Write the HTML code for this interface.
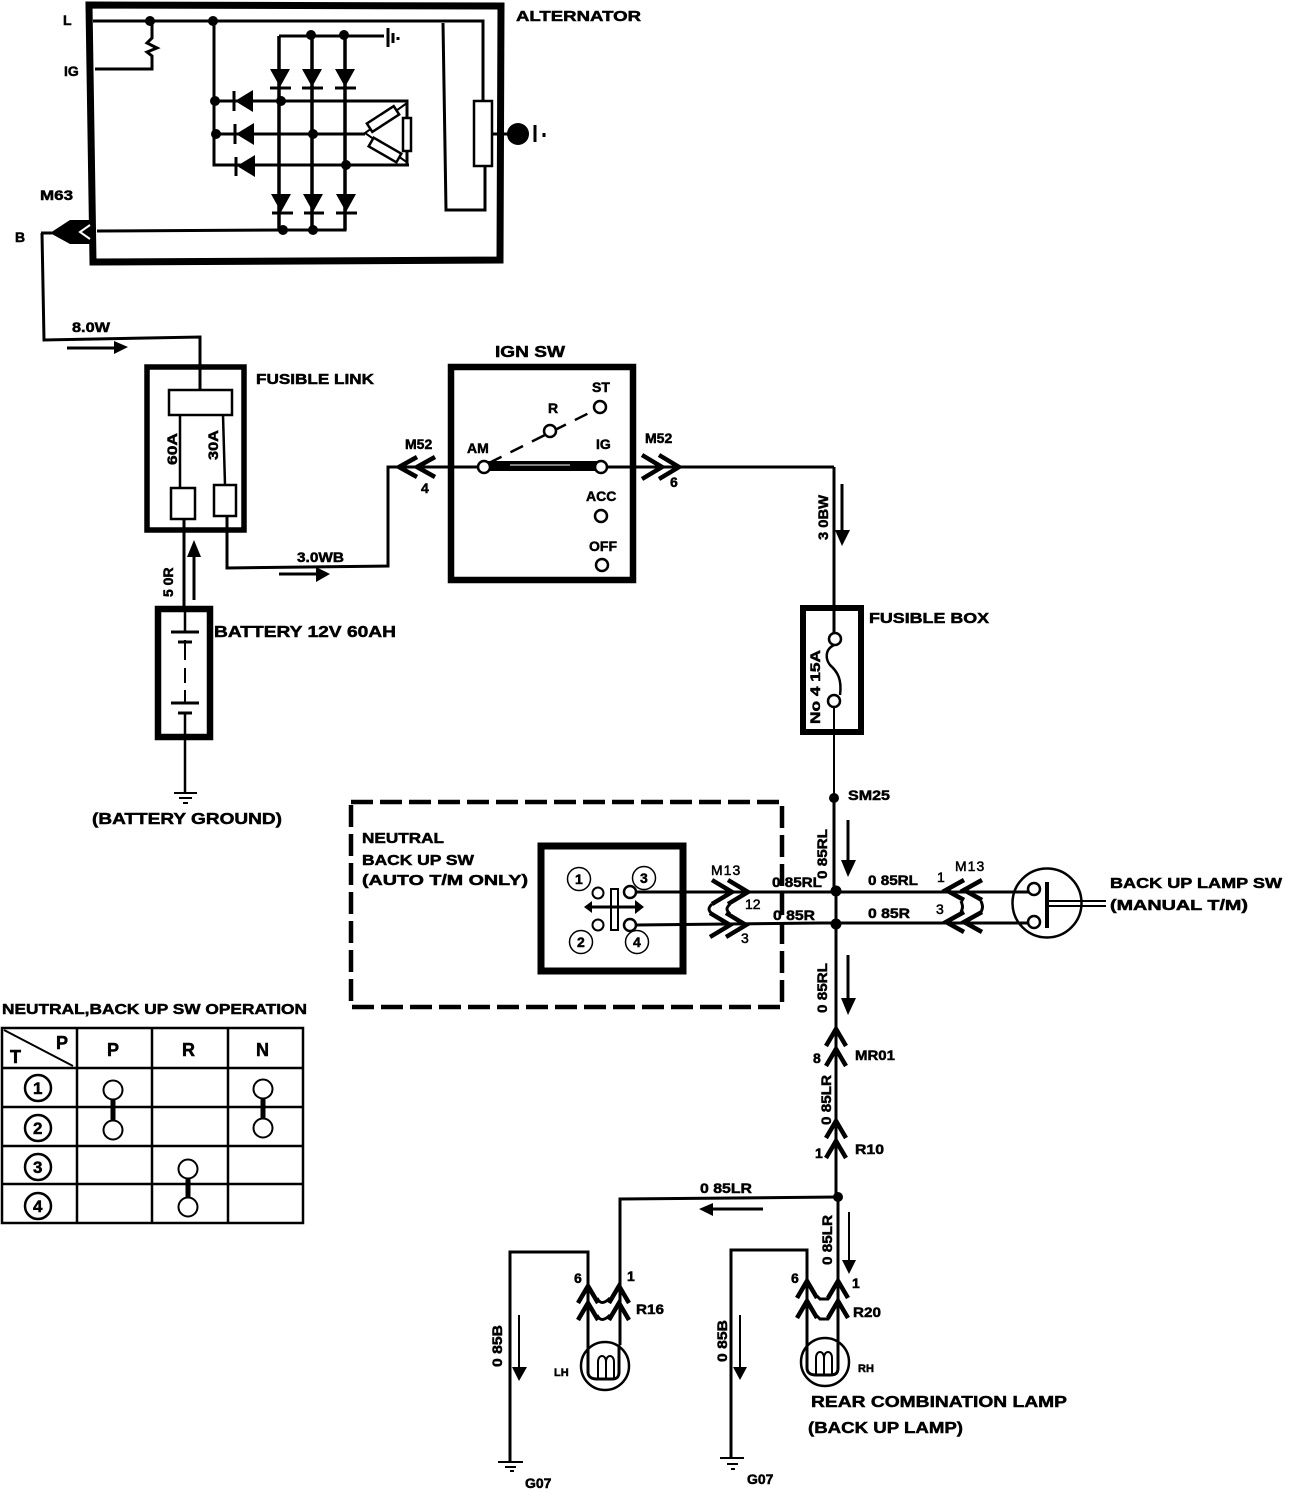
<!DOCTYPE html>
<html><head><meta charset="utf-8"><style>
html,body{margin:0;padding:0;background:#fff}
svg{display:block}
text{font-family:"Liberation Sans",sans-serif;font-weight:bold;fill:#000;stroke:#000;stroke-width:.5}
.w{fill:none;stroke:#000;stroke-width:3;stroke-linejoin:miter}
.t{fill:none;stroke:#000;stroke-width:2}
.b{fill:none;stroke:#000}
.wf{fill:#fff;stroke:#000;stroke-width:2.5}
.s12{font-size:14.5px}
.s14{font-size:16px}
.n{font-size:14px}
</style></head><body>
<svg width="1312" height="1490" viewBox="0 0 1312 1490" xmlns="http://www.w3.org/2000/svg">
<defs>
<g id="cu"><polyline points="-10,18 0,1 10,18" fill="none" stroke="#000" stroke-width="4.5"/></g>
<g id="cr"><polyline points="-26,-12 -6,0 -26,12" fill="none" stroke="#000" stroke-width="4.5"/></g>
<g id="cl"><polyline points="20,-10 2,0 20,10" fill="none" stroke="#000" stroke-width="4.5"/></g>
<polygon id="dd" points="-10,0 10,0 0,18" fill="#000"/>
<polygon id="dl" points="10,-11 10,11 -8,0" fill="#000"/>
</defs>

<!-- Alternator -->
<path d="M89,5 L501,6 L500,260 L93,262 Z" fill="none" stroke="#000" stroke-width="7"/>
<path class="w" d="M93,21 H483 V101"/>
<path class="w" d="M152,21 V38 L147,43 L157,48 L147,52 L152,56 V69 H95"/>
<path class="w" d="M214,21 V165 H409 M215,101 H407 V165 M216,134 H365"/>
<path d="M279,36 V230 M312,35 V230 M345,35 V230" class="w" style="stroke-width:3.5"/>
<path class="w" d="M279,36 H384"/>
<path class="b" stroke-width="3" d="M388,28 V47"/><path class="b" stroke-width="3" d="M393,33 V43 M398,37 V40"/>
<g><circle cx="150" cy="21" r="5"/><circle cx="213" cy="21" r="5"/><circle cx="311" cy="35" r="5"/><circle cx="344" cy="35" r="5"/><circle cx="215" cy="101" r="5"/><circle cx="216" cy="134" r="5"/><circle cx="281" cy="101" r="5"/><circle cx="313" cy="134" r="5"/><circle cx="346" cy="165" r="5"/><circle cx="283" cy="230" r="5"/><circle cx="313" cy="230" r="5"/></g>
<use href="#dd" x="280" y="69"/><use href="#dd" x="312" y="69"/><use href="#dd" x="345" y="69"/>
<path class="w" d="M270,88 H291 M302,88 H323 M335,88 H356"/>
<use href="#dd" x="281" y="194"/><use href="#dd" x="313" y="194"/><use href="#dd" x="346" y="194"/>
<path class="w" d="M272,213 H293 M304,213 H324 M336,213 H357"/>
<use href="#dl" x="243" y="101"/><use href="#dl" x="244" y="134"/><use href="#dl" x="245" y="166"/>
<path class="w" d="M234,91 V111 M235,124 V144 M236,157 V176"/>
<path class="w" d="M407,103 L365,133 L408,163" style="stroke-width:2"/>
<rect class="wf" x="403" y="118" width="8" height="33"/>
<rect class="wf" x="-16" y="-5" width="32" height="10" transform="translate(383,119) rotate(-33)"/>
<rect class="wf" x="-16" y="-5" width="32" height="10" transform="translate(385,150) rotate(30)"/>
<path class="w" d="M443,23 L446,210 H485 V165"/>
<rect class="wf" x="474" y="101" width="18" height="65"/>
<path class="w" d="M492,134 H508"/><circle cx="518" cy="134" r="11"/>
<path class="b" stroke-width="3" d="M535,125 V142"/><path class="b" stroke-width="3" d="M544,133 V137"/>
<path class="w" d="M97,231 L283,230 H345 V212"/>
<path d="M50,233 L70,220 H92 V244 H70 Z" fill="#000"/>
<path d="M90,225 L80,232 L90,239" fill="none" stroke="#fff" stroke-width="2"/>
<path class="w" d="M41,233 H52 M42,233 L44,340 L200,337 V390"/>
<text class="s12" x="516" y="21" textLength="125" lengthAdjust="spacingAndGlyphs">ALTERNATOR</text>
<text class="n" x="63" y="25">L</text><text class="n" x="64" y="76">IG</text>
<text class="n" x="40" y="200" textLength="33" lengthAdjust="spacingAndGlyphs">M63</text><text class="n" x="15" y="242">B</text>
<text class="n" x="72" y="332" textLength="38" lengthAdjust="spacingAndGlyphs">8.0W</text>
<path class="w" d="M67,348 H115"/><polygon points="114,341 128,347 114,354"/>

<!-- Fusible link -->
<rect x="147" y="367" width="97" height="163" fill="none" stroke="#000" stroke-width="5.5"/>
<rect class="wf" x="169" y="390" width="63" height="25"/>
<path class="w" d="M180,415 V487 M223,415 L225,485" style="stroke-width:2.5"/>
<rect class="wf" x="171" y="488" width="24" height="31"/>
<rect class="wf" x="214" y="485" width="22" height="31"/>
<text class="n" transform="translate(177,465) rotate(-90)" textLength="32" lengthAdjust="spacingAndGlyphs">60A</text>
<text class="n" transform="translate(218,460) rotate(-90)" textLength="30" lengthAdjust="spacingAndGlyphs">30A</text>
<text class="s12" x="256" y="384" textLength="118" lengthAdjust="spacingAndGlyphs">FUSIBLE LINK</text>
<path class="w" d="M184,519 V610"/>
<path class="w" d="M227,516 V568 L388,566 V467 H449"/>
<path class="w" d="M194,555 V600"/><polygon points="194,540 187,557 201,557"/>
<text class="n" transform="translate(173,597) rotate(-90)">5 0R</text>
<text class="n" x="297" y="562" textLength="47" lengthAdjust="spacingAndGlyphs">3.0WB</text>
<path class="w" d="M279,574 H318"/><polygon points="316,567 330,574 316,582"/>

<!-- Battery -->
<rect x="158" y="609" width="52" height="128" fill="none" stroke="#000" stroke-width="6.5"/>
<path class="w" d="M185,610 V632 M185,712 V793" style="stroke-width:2.5"/>
<path class="w" d="M185,640 V660 M185,668 V683 M185,690 V703" style="stroke-width:2"/>
<path class="w" d="M171,632 H199 M178,642 H192 M171,703 H199 M178,713 H192"/>
<path class="w" d="M174,793 H197" style="stroke-width:2"/><path class="w" d="M179,798 H192 M183,803 H188" style="stroke-width:2"/>
<text class="s14" x="214" y="637" textLength="182" lengthAdjust="spacingAndGlyphs">BATTERY 12V 60AH</text>
<text class="s14" x="92" y="824" textLength="190" lengthAdjust="spacingAndGlyphs">(BATTERY GROUND)</text>

<!-- IGN SW -->
<rect x="451" y="367" width="182" height="213" fill="none" stroke="#000" stroke-width="6.5"/>
<path d="M388,467 H484 M600,467 H834" class="w"/>
<path d="M484,461 H600 V471 H484 Z" fill="#000"/><path d="M510,465 H570" stroke="#fff" stroke-width="1"/>
<path d="M489,463 L597,409" fill="none" stroke="#000" stroke-width="2.5" stroke-dasharray="14,10"/>
<circle class="wf" cx="600" cy="407" r="6"/><circle class="wf" cx="550" cy="431" r="6"/>
<circle class="wf" cx="484" cy="467" r="6"/><circle class="wf" cx="601" cy="467" r="6"/>
<circle class="wf" cx="601" cy="516" r="6"/><circle class="wf" cx="602" cy="565" r="6"/>
<text class="n" x="495" y="357" textLength="70" lengthAdjust="spacingAndGlyphs" style="font-size:16px">IGN SW</text>
<text class="n" x="592" y="392">ST</text><text class="n" x="548" y="413">R</text><text class="n" x="596" y="449">IG</text><text class="n" x="467" y="453">AM</text><text class="n" x="586" y="501">ACC</text><text class="n" x="589" y="551">OFF</text>
<use href="#cl" x="397" y="467"/><use href="#cl" x="415" y="467"/>
<text class="n" x="405" y="449">M52</text><text class="n" x="421" y="493">4</text>
<use href="#cr" x="668" y="467"/><use href="#cr" x="685" y="467"/>
<text class="n" x="645" y="443">M52</text><text class="n" x="670" y="487">6</text>

<!-- Fusible box -->
<path class="w" d="M834,467 V633"/>
<path class="w" d="M834,706 V795" style="stroke-width:2"/>
<text class="n" transform="translate(828,540) rotate(-90)" textLength="45" lengthAdjust="spacingAndGlyphs">3 0BW</text>
<path class="w" d="M842,484 V535"/><polygon points="835,530 850,530 842,546"/>
<rect x="803" y="608" width="58" height="124" fill="none" stroke="#000" stroke-width="6"/>
<path class="w" d="M834,645 C824,650 826,660 830,665 C838,672 842,680 840,695" style="stroke-width:2.5"/>
<circle class="wf" cx="835" cy="639" r="6"/><circle class="wf" cx="834" cy="701" r="6"/>
<text class="n" transform="translate(820,724) rotate(-90)" textLength="74" lengthAdjust="spacingAndGlyphs">No 4 15A</text>
<text class="s12" x="869" y="623" textLength="120" lengthAdjust="spacingAndGlyphs">FUSIBLE BOX</text>
<circle cx="834" cy="798" r="5"/>
<text class="n" x="848" y="800" textLength="42" lengthAdjust="spacingAndGlyphs">SM25</text>

<!-- Neutral SW -->
<path d="M351,802 H782 V1007 H351 Z" fill="none" stroke="#000" stroke-width="4.5" stroke-dasharray="22,7"/>
<text class="s12" x="362" y="843" textLength="82" lengthAdjust="spacingAndGlyphs">NEUTRAL</text>
<text class="s12" x="362" y="865" textLength="112" lengthAdjust="spacingAndGlyphs">BACK UP SW</text>
<text class="s12" x="362" y="885" textLength="166" lengthAdjust="spacingAndGlyphs">(AUTO T/M ONLY)</text>
<rect x="541" y="846" width="142" height="125" fill="none" stroke="#000" stroke-width="7"/>
<g fill="#fff" stroke="#000" stroke-width="1.5"><circle cx="579" cy="879" r="11.5"/><circle cx="581" cy="942" r="11.5"/><circle cx="644" cy="878" r="11.5"/><circle cx="637" cy="942" r="11.5"/></g>
<text class="n" x="575" y="884">1</text><text class="n" x="577" y="947">2</text><text class="n" x="640" y="883">3</text><text class="n" x="633" y="947">4</text>
<circle class="wf" cx="598" cy="893" r="5.5" style="stroke-width:2"/><circle class="wf" cx="598" cy="925" r="5.5" style="stroke-width:2"/>
<rect class="wf" x="611" y="889" width="7" height="41" style="stroke-width:2"/>
<path class="w" d="M590,907 H640"/><polygon points="584,907 592,901 592,913"/><polygon points="644,907 635,900 635,914"/>
<circle class="wf" cx="630" cy="892" r="6"/><circle class="wf" cx="630" cy="925" r="6"/>
<path class="w" d="M636,892 H1030 M636,925 L820,923 H1030"/>
<use href="#cr" x="738" y="892"/><use href="#cr" x="754" y="892"/><use href="#cr" x="736" y="925"/><use href="#cr" x="752" y="925"/>
<path class="w" d="M712,904 C708,908 708,910 712,914 M730,904 C726,908 726,910 730,914"/>
<text class="n" x="711" y="875" style="font-weight:normal;letter-spacing:1px">M13</text>
<text class="n" x="745" y="909" style="font-weight:normal">12</text><text class="n" x="741" y="943" style="font-weight:normal">3</text>
<text class="n" x="772" y="887" textLength="50" lengthAdjust="spacingAndGlyphs">0 85RL</text><text class="n" x="773" y="920" textLength="42" lengthAdjust="spacingAndGlyphs">0 85R</text>
<text class="n" x="868" y="885" textLength="50" lengthAdjust="spacingAndGlyphs">0 85RL</text><text class="n" x="868" y="918" textLength="42" lengthAdjust="spacingAndGlyphs">0 85R</text>
<text class="n" x="937" y="882" style="font-weight:normal">1</text><text class="n" x="936" y="914" style="font-weight:normal">3</text>
<text class="n" x="955" y="871" style="font-weight:normal;letter-spacing:1px">M13</text>
<use href="#cl" x="944" y="890"/><use href="#cl" x="962" y="890"/><use href="#cl" x="944" y="922"/><use href="#cl" x="962" y="922"/>
<path class="w" d="M961,901 C963,906 963,908 961,912 M981,901 C983,906 983,908 981,912"/>
<circle cx="1047" cy="903" r="34.5" fill="none" stroke="#000" stroke-width="2.5"/>
<circle class="wf" cx="1034" cy="889" r="6"/><circle class="wf" cx="1034" cy="922" r="6"/>
<path class="b" stroke-width="4" d="M1047,882 V928"/>
<path class="w" d="M1048,901 H1106 M1048,906 H1106" style="stroke-width:2"/>
<text class="s12" x="1110" y="888" textLength="172" lengthAdjust="spacingAndGlyphs">BACK UP LAMP SW</text>
<text class="s12" x="1110" y="910" textLength="138" lengthAdjust="spacingAndGlyphs">(MANUAL T/M)</text>

<!-- Center trunk -->
<path class="w" d="M834,800 V890 M836,892 V1197 M838,1197 V1345"/>
<circle cx="836" cy="891" r="5.5"/><circle cx="836" cy="924" r="5.5"/><circle cx="838" cy="1197" r="5"/>
<text class="n" transform="translate(827,879) rotate(-90)" textLength="50" lengthAdjust="spacingAndGlyphs">0 85RL</text>
<path class="w" d="M848,820 V862"/><polygon points="841,860 856,860 848,877"/>
<text class="n" transform="translate(827,1013) rotate(-90)" textLength="50" lengthAdjust="spacingAndGlyphs">0 85RL</text>
<path class="w" d="M848,955 V1000"/><polygon points="841,998 856,998 848,1015"/>
<use href="#cu" x="836" y="1028"/><use href="#cu" x="836" y="1048"/><use href="#cu" x="836" y="1120"/><use href="#cu" x="836" y="1140"/>
<text class="n" x="813" y="1063">8</text><text class="n" x="855" y="1060" textLength="40" lengthAdjust="spacingAndGlyphs">MR01</text>
<text class="n" transform="translate(831,1125) rotate(-90)" textLength="50" lengthAdjust="spacingAndGlyphs">0 85LR</text>
<text class="n" x="815" y="1158">1</text><text class="n" x="855" y="1154" textLength="29" lengthAdjust="spacingAndGlyphs">R10</text>

<!-- Lamps -->
<path class="w" d="M838,1197 L620,1199 V1345"/>
<text class="n" x="700" y="1193" textLength="52" lengthAdjust="spacingAndGlyphs">0 85LR</text>
<path class="w" d="M713,1209 H763"/><polygon points="699,1209 713,1203 713,1216"/>
<path class="w" d="M588,1345 V1252 H510 V1462 M807,1345 V1250 H731 V1458"/>
<path class="w" d="M498,1462 H523 M505,1467 H516 M510,1471 H514 M720,1458 H744 M727,1464 H738 M731,1469 H735" style="stroke-width:2"/>
<text class="n" x="525" y="1488">G07</text><text class="n" x="747" y="1484">G07</text>
<text class="n" transform="translate(502,1367) rotate(-90)" textLength="42" lengthAdjust="spacingAndGlyphs">0 85B</text>
<path class="w" d="M519,1315 V1368" style="stroke-width:2"/><polygon points="512,1367 527,1367 519,1381"/>
<text class="n" transform="translate(727,1362) rotate(-90)" textLength="42" lengthAdjust="spacingAndGlyphs">0 85B</text>
<path class="w" d="M740,1315 V1368" style="stroke-width:2"/><polygon points="733,1367 747,1367 740,1380"/>
<text class="n" transform="translate(832,1265) rotate(-90)" textLength="50" lengthAdjust="spacingAndGlyphs">0 85LR</text>
<path class="w" d="M849,1212 V1262" style="stroke-width:2"/><polygon points="842,1260 856,1260 849,1274"/>
<use href="#cu" x="588" y="1285"/><use href="#cu" x="619" y="1285"/><use href="#cu" x="588" y="1302"/><use href="#cu" x="619" y="1302"/>
<path class="w" d="M597,1298 C600,1304 604,1304 610,1298 M597,1315 C600,1321 604,1321 610,1315"/>
<use href="#cu" x="807" y="1280"/><use href="#cu" x="838" y="1280"/><use href="#cu" x="807" y="1300"/><use href="#cu" x="838" y="1300"/>
<path class="w" d="M817,1296 L820,1299 H828 L830,1296 M817,1316 L820,1319 H828 L830,1316"/>
<circle cx="605" cy="1366" r="24" fill="none" stroke="#000" stroke-width="2.5"/>
<circle cx="825" cy="1362" r="24" fill="none" stroke="#000" stroke-width="2.5"/>
<path class="w" d="M588,1345 V1372 C588,1377 592,1379 597,1379 H612 C617,1379 619,1377 619,1372 V1345"/>
<path class="w" d="M807,1345 V1368 C807,1373 811,1375 816,1375 H830 C836,1375 838,1373 838,1368 V1345"/>
<path class="w" d="M598,1378 V1362 C598,1354 606,1354 606,1362 V1378 V1362 C606,1354 614,1354 614,1362 V1378" style="stroke-width:2"/>
<path class="w" d="M816,1374 V1358 C816,1350 824,1350 824,1358 V1374 V1358 C824,1350 832,1350 832,1358 V1374" style="stroke-width:2"/>
<text class="n" x="574" y="1283">6</text><text class="n" x="627" y="1281">1</text><text class="n" x="636" y="1314" textLength="28" lengthAdjust="spacingAndGlyphs">R16</text><text class="n" x="554" y="1376" style="font-size:11px">LH</text>
<text class="n" x="791" y="1283">6</text><text class="n" x="852" y="1288">1</text><text class="n" x="853" y="1317" textLength="28" lengthAdjust="spacingAndGlyphs">R20</text><text class="n" x="858" y="1372" style="font-size:11px">RH</text>
<text class="s14" x="811" y="1407" textLength="256" lengthAdjust="spacingAndGlyphs">REAR COMBINATION LAMP</text>
<text class="s14" x="808" y="1433" textLength="155" lengthAdjust="spacingAndGlyphs">(BACK UP LAMP)</text>

<!-- Table -->
<text class="s12" x="2" y="1014" textLength="305" lengthAdjust="spacingAndGlyphs">NEUTRAL,BACK UP SW OPERATION</text>
<path d="M2,1028 H303 V1223 H2 Z M77,1028 V1223 M152,1028 V1223 M228,1028 V1223 M2,1068 H303 M2,1107 H303 M2,1146 H303 M2,1184 H303" fill="none" stroke="#000" stroke-width="2.5"/>
<path class="w" d="M4,1030 L73,1066" style="stroke-width:2"/>
<text x="10" y="1063" style="font-size:18px">T</text><text x="56" y="1049" style="font-size:18px">P</text>
<text x="107" y="1056" style="font-size:18px">P</text><text x="182" y="1056" style="font-size:18px">R</text><text x="256" y="1056" style="font-size:18px">N</text>
<g fill="none" stroke="#000" stroke-width="2.5"><circle cx="38" cy="1088" r="13"/><circle cx="38" cy="1128" r="13"/><circle cx="38" cy="1167" r="13"/><circle cx="38" cy="1206" r="13"/></g>
<text x="33" y="1094" style="font-size:17px">1</text><text x="33" y="1134" style="font-size:17px">2</text><text x="33" y="1173" style="font-size:17px">3</text><text x="33" y="1212" style="font-size:17px">4</text>
<path d="M113,1090 V1130 M263,1090 V1128 M188,1170 V1207" stroke="#000" stroke-width="5"/>
<g fill="#fff" stroke="#000" stroke-width="2"><circle cx="113" cy="1090" r="9.5"/><circle cx="113" cy="1130" r="9.5"/><circle cx="263" cy="1089" r="9.5"/><circle cx="263" cy="1128" r="9.5"/><circle cx="188" cy="1169" r="9.5"/><circle cx="188" cy="1207" r="9.5"/></g>
</svg>
</body></html>
